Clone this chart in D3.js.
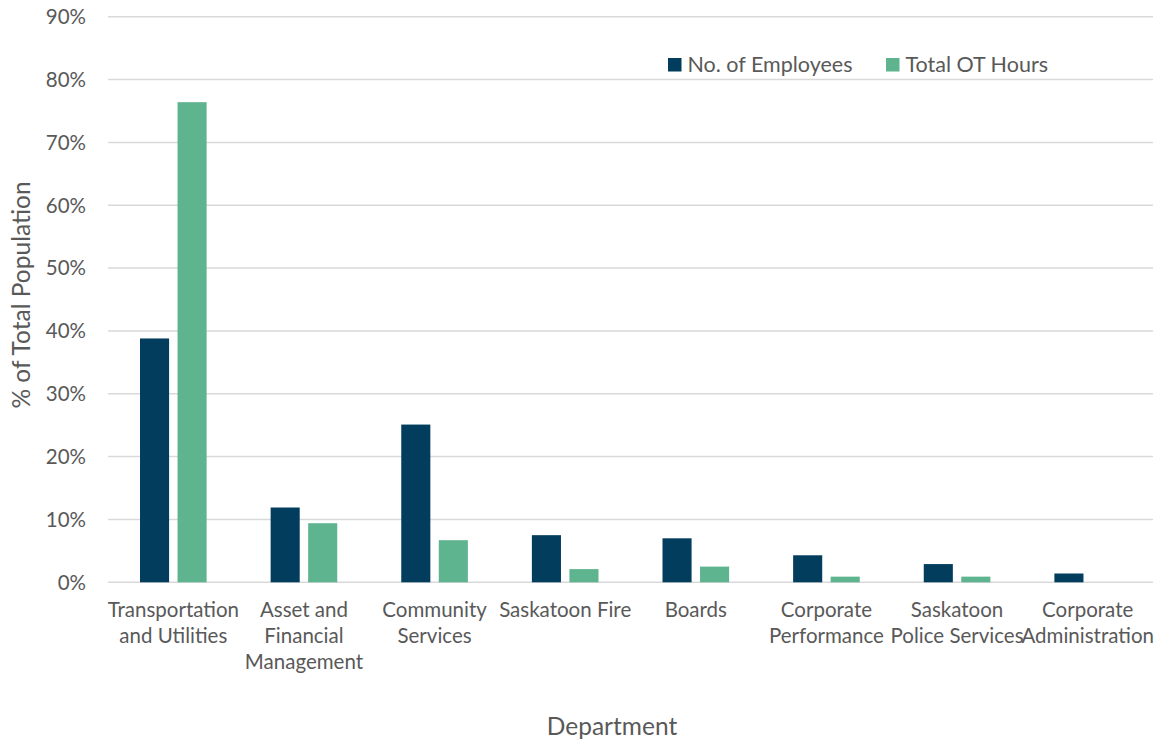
<!DOCTYPE html>
<html>
<head>
<meta charset="utf-8">
<script src="https://cdn.jsdelivr.net/npm/d3@7/dist/d3.min.js"></script>
<style>
  body { margin: 0; background: #fff; }
  text { font-family: Lato, "Open Sans", sans-serif; fill: #595959; }
</style>
</head>
<body>
<svg id="chart" width="1160" height="742"></svg>
<script>
const departments = [
  ["Transportation", "and Utilities"],
  ["Asset and", "Financial", "Management"],
  ["Community", "Services"],
  ["Saskatoon Fire"],
  ["Boards"],
  ["Corporate", "Performance"],
  ["Saskatoon", "Police Services"],
  ["Corporate", "Administration"]
];
const seriesNames = ["No. of Employees", "Total OT Hours"];
const employees = [38.8, 11.9, 25.1, 7.5, 7.0, 4.3, 2.9, 1.4];
const otHours = [76.4, 9.4, 6.7, 2.1, 2.5, 0.9, 0.9, 0.0];
const yTicks = [0, 10, 20, 30, 40, 50, 60, 70, 80, 90];
const colors = ["#023d5e", "#5eb48f"];

const svg = d3.select("#chart");
const margin = { left: 108, right: 7 };
const W = 1160;
const plotBottom = 582.3, plotTop = 16.7;

const keys = departments.map((d, i) => i);
const x0 = d3.scaleBand().domain(keys).range([margin.left, W - margin.right]).paddingInner(0.49).paddingOuter(0.245);
const x1 = d3.scaleBand().domain(seriesNames).range([0, x0.bandwidth()]).paddingInner(0.225);
const y = d3.scaleLinear().domain([0, 90]).range([plotBottom, plotTop]);

// gridlines
svg.append("g")
  .selectAll("line")
  .data(yTicks)
  .join("line")
  .attr("x1", margin.left)
  .attr("x2", W - margin.right)
  .attr("y1", d => y(d))
  .attr("y2", d => y(d))
  .attr("stroke", "#d9d9d9")
  .attr("stroke-width", 1.5);

// y tick labels
svg.append("g")
  .selectAll("text")
  .data(yTicks)
  .join("text")
  .attr("x", 86)
  .attr("y", d => y(d))
  .attr("dy", "0.36em")
  .attr("text-anchor", "end")
  .style("font-size", "20.5px")
  .text(d => d + "%");

// bars
const groups = svg.append("g")
  .selectAll("g")
  .data(keys)
  .join("g")
  .attr("transform", i => `translate(${x0(i)},0)`);

groups.selectAll("rect")
  .data(i => [employees[i], otHours[i]].map((v, s) => ({ v, s })))
  .join("rect")
  .attr("x", d => x1(seriesNames[d.s]))
  .attr("width", x1.bandwidth())
  .attr("y", d => y(d.v))
  .attr("height", d => y(0) - y(d.v))
  .attr("fill", d => colors[d.s]);

// category labels
const catG = svg.append("g")
  .selectAll("text")
  .data(keys)
  .join("text")
  .attr("text-anchor", "middle")
  .style("font-size", "20.5px")
  .attr("transform", i => `translate(${x0(i) + x0.bandwidth() / 2},617)`);
catG.selectAll("tspan")
  .data(i => departments[i])
  .join("tspan")
  .attr("x", 0)
  .attr("y", (d, j) => j * 26)
  .text(d => d);

// axis titles
svg.append("text")
  .attr("x", 612)
  .attr("y", 735)
  .attr("text-anchor", "middle")
  .style("font-size", "24.5px")
  .text("Department");

svg.append("text")
  .attr("transform", `translate(30,295) rotate(-90)`)
  .attr("text-anchor", "middle")
  .style("font-size", "24.5px")
  .text("% of Total Population");

// legend
const legendPos = [668, 886];
const legend = svg.append("g")
  .selectAll("g")
  .data(seriesNames)
  .join("g")
  .attr("transform", (d, i) => `translate(${legendPos[i]},58)`);
legend.append("rect")
  .attr("width", 13.5)
  .attr("height", 13.5)
  .attr("fill", (d, i) => colors[i]);
legend.append("text")
  .attr("x", 19.5)
  .attr("y", 14)
  .style("font-size", "21.5px")
  .text(d => d);
</script>
</body>
</html>
